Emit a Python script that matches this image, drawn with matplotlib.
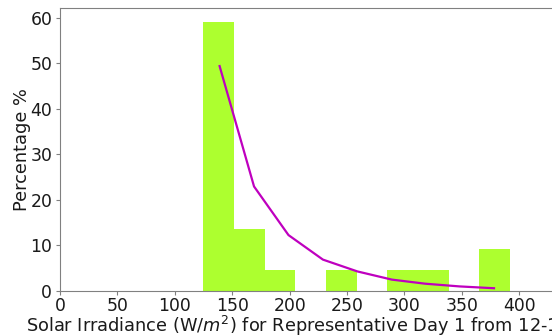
import matplotlib
matplotlib.use("Agg")
import matplotlib.pyplot as plt

# Histogram bins (W/m^2) and share of hours in each bin (%)
bin_edges = [124.8, 151.5, 178.2, 204.9, 231.6, 258.3, 285.0, 311.7, 338.4, 365.1, 391.8]
percentages = [59.09, 13.64, 4.55, 0.0, 4.55, 0.0, 4.55, 4.55, 0.0, 9.09]

# Fitted distribution curve
fit_x = [139, 169, 199, 229, 259, 289, 318, 348, 378]
fit_y = [49.4, 22.9, 12.2, 6.8, 4.2, 2.4, 1.5, 0.9, 0.5]

xlabel = "Solar Irradiance (W/$m^2$) for Representative Day 1 from 12-15"
ylabel = "Percentage %"

fig = plt.figure(figsize=(5.52, 3.36), dpi=100)
ax = fig.add_axes([0.1087, 0.1354, 0.936, 0.8396])

widths = [bin_edges[i + 1] - bin_edges[i] for i in range(len(percentages))]
ax.bar(bin_edges[:-1], percentages, width=widths, align="edge",
       color="greenyellow", linewidth=0)
ax.plot(fit_x, fit_y, color="m", linewidth=1.6)

ax.set_xlim(0, 450)
ax.set_ylim(0, 62.1)
ax.set_xticks([0, 50, 100, 150, 200, 250, 300, 350, 400])
ax.set_yticks([0, 10, 20, 30, 40, 50, 60])

ax.spines["right"].set_visible(False)
for side in ("left", "bottom", "top"):
    ax.spines[side].set_color("gray")
ax.tick_params(colors="gray", labelcolor="#1a1a1a", labelsize=12.4, length=3)
ax.tick_params(axis="x", pad=1.8)
ax.tick_params(axis="y", pad=2.6)

ax.set_ylabel(ylabel, fontsize=12.8, color="#1a1a1a")
ax.yaxis.set_label_coords(-0.057, 0.5)
ax.set_xlabel(xlabel, fontsize=12.8, color="#1a1a1a", ha="left")
ax.xaxis.set_label_coords(-0.066, -0.148)
ax.xaxis.label.set_verticalalignment("baseline")

fig.savefig("out.png", dpi=100)
